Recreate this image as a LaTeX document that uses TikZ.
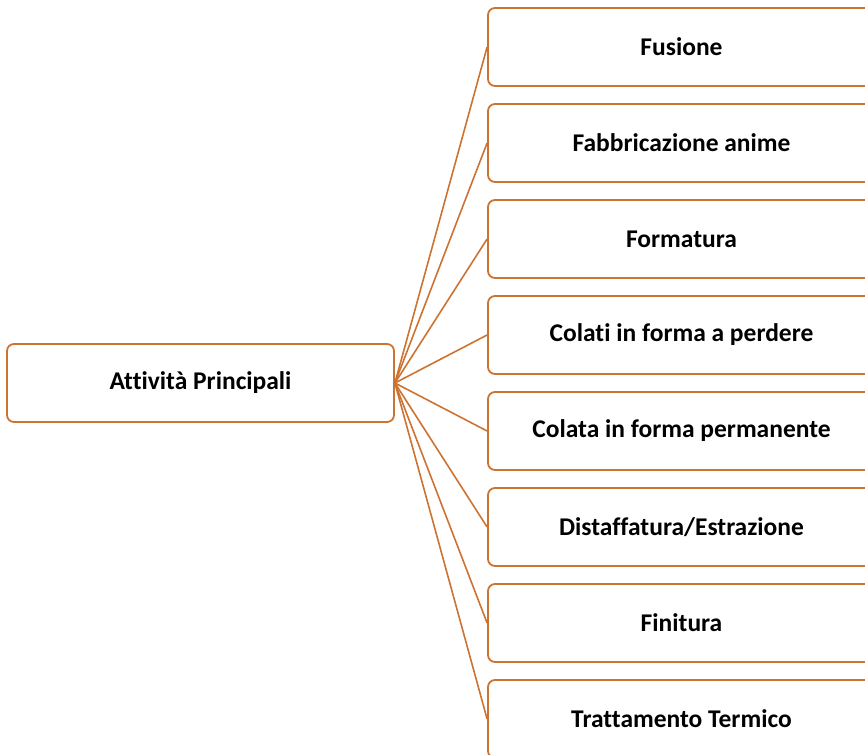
\documentclass[tikz,border=0pt]{standalone}
\usepackage{fontspec}
\setmainfont{Carlito}[Ligatures={NoCommon}]
\begin{document}
\definecolor{accent}{RGB}{205,115,50}
\begin{tikzpicture}[x=1pt,y=-1pt,
  box/.style={draw=accent,line width=1.8pt,rounded corners=7pt,fill=white,
    minimum width=387pt,minimum height=78pt,inner sep=0pt,
    font=\fontsize{25.5}{30}\selectfont\bfseries},
  link/.style={draw=accent,line width=1.6pt}]
\useasboundingbox (0,0) rectangle (865,755);
\clip (0,0) rectangle (865,755);
\node[box] (main) at (200.5,383) {Attività Principali};
\foreach \i/\t in {1/{Fusione},2/{Fabbricazione anime},3/{Formatura},
  4/{Colati in forma a perdere},5/{Colata in forma permanente},
  6/{Distaffatura/Estrazione},7/{Finitura},8/{Trattamento Termico}}{
  \node[box] (r\i) at (681.5,{47+96*(\i-1)}) {\t};
  \draw[link] (main.east) -- (r\i.west);
}
\end{tikzpicture}
\end{document}
